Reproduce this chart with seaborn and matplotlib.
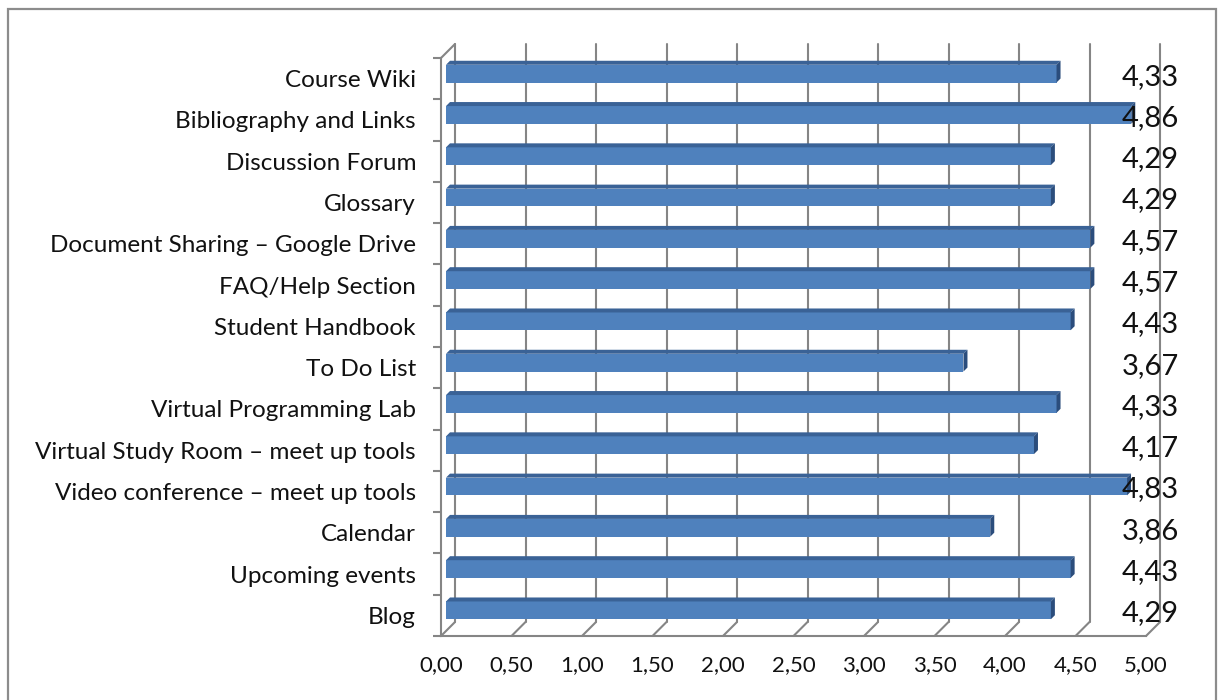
import numpy as np
import pandas as pd
import seaborn as sns
import matplotlib
matplotlib.use("Agg")
import matplotlib.pyplot as plt
from matplotlib.patches import Polygon, Rectangle
from matplotlib.transforms import ScaledTranslation

# --- data -----------------------------------------------------------------
categories = [
    "Course Wiki",
    "Bibliography and Links",
    "Discussion Forum",
    "Glossary",
    "Document Sharing \u2013 Google Drive",
    "FAQ/Help Section",
    "Student Handbook",
    "To Do List",
    "Virtual Programming Lab",
    "Virtual Study Room \u2013 meet up tools",
    "Video conference \u2013 meet up tools",
    "Calendar",
    "Upcoming events",
    "Blog",
]
scores = [4.33, 4.86, 4.29, 4.29, 4.57, 4.57, 4.43, 3.67, 4.33, 4.17, 4.83, 3.86, 4.43, 4.29]
x_ticks = [0.0, 0.5, 1.0, 1.5, 2.0, 2.5, 3.0, 3.5, 4.0, 4.5, 5.0]
x_tick_labels = ["0,00", "0,50", "1,00", "1,50", "2,00", "2,50", "3,00", "3,50", "4,00", "4,50", "5,00"]
value_labels = ["4,33", "4,86", "4,29", "4,29", "4,57", "4,57", "4,43", "3,67", "4,33", "4,17", "4,83", "3,86", "4,43", "4,29"]

df = pd.DataFrame({"tool": categories, "score": scores})

# --- layout (pixels) -------------------------------------------------------
W, H, DPI = 1218, 700, 100
left_px, right_px = 441, 1146
top_px, bottom_px = 58, 636
XMAX = 5.0
n = len(categories)

sns.set_theme(style="white")
plt.rcParams["font.family"] = ["Lato", "DejaVu Sans"]

fig = plt.figure(figsize=(W / DPI, H / DPI), dpi=DPI)
ax = fig.add_axes([left_px / W, 1 - bottom_px / H,
                   (right_px - left_px) / W, (bottom_px - top_px) / H])

px_x = (right_px - left_px) / XMAX        # pixels per score unit
px_y = (bottom_px - top_px) / n           # pixels per category slot

def dx(p):
    return p / px_x

def dy(p):
    # upward on screen = smaller category index (inverted axis)
    return -p / px_y

bar_w = 0.43
front = "#4F81BD"
top_c = "#3A6296"
side_c = "#2B4D7C"
grid_c = "#858585"

sns.barplot(data=df, x="score", y="tool", orient="h", color=front,
            width=bar_w, saturation=1, ax=ax, zorder=3)
ax.set_xlim(0, XMAX)
ax.set_ylim(n - 0.5, -0.5)

# bars sit in the middle of the depth: shift them back-right
shift = ScaledTranslation(5 / DPI, 5 / DPI, fig.dpi_scale_trans)
for p in list(ax.patches):
    p.set_edgecolor("none")
    p.set_transform(ax.transData + shift)

# top and end faces for the 3D look
d = 4.0
for i, v in enumerate(scores):
    y_top = i - bar_w / 2
    y_bot = i + bar_w / 2
    top = Polygon([(0, y_top), (v, y_top), (v + dx(d), y_top + dy(d)), (dx(d), y_top + dy(d))],
                  closed=True, facecolor=top_c, edgecolor="none", zorder=3,
                  transform=ax.transData + shift)
    side = Polygon([(v, y_top), (v + dx(d), y_top + dy(d)), (v + dx(d), y_bot + dy(d)), (v, y_bot)],
                   closed=True, facecolor=side_c, edgecolor="none", zorder=3,
                   transform=ax.transData + shift)
    ax.add_patch(top)
    ax.add_patch(side)

# back wall, floor and side wall lines
D = 14.0
lw = 1.5
for x in x_ticks:
    ax.plot([x + dx(D), x + dx(D)], [n - 0.5 + dy(D), -0.5 + dy(D)],
            color=grid_c, lw=lw, zorder=1, clip_on=False)
    ax.plot([x, x + dx(D)], [n - 0.5, n - 0.5 + dy(D)],
            color=grid_c, lw=lw, zorder=1, clip_on=False)
ax.plot([0, dx(D)], [-0.5, -0.5 + dy(D)], color=grid_c, lw=lw, zorder=1, clip_on=False)

for s in ["top", "right"]:
    ax.spines[s].set_visible(False)
for s in ["left", "bottom"]:
    ax.spines[s].set_color(grid_c)
    ax.spines[s].set_linewidth(lw)
    ax.spines[s].set_zorder(1)

ax.set_xticks(x_ticks)
ax.set_xticklabels(x_tick_labels)
ax.set_yticks(range(n))
ax.set_yticklabels(categories)
ax.set_yticks(np.arange(-0.5, n, 1.0), minor=True)
ax.tick_params(axis="x", which="major", direction="out", length=6, width=lw,
               color=grid_c, labelsize=16, pad=8, labelcolor="#111111")
ax.tick_params(axis="y", which="major", length=0, labelsize=17.5, pad=18,
               labelcolor="#111111")
ax.tick_params(axis="y", which="minor", direction="out", length=6, width=lw,
               color=grid_c, left=True)
ax.set_xlabel("")
ax.set_ylabel("")
ax.patch.set_alpha(0)

# value labels to the right of the plot
for i, lab in enumerate(value_labels):
    ax.text(5.03, i - 0.05, lab, ha="center", va="center", fontsize=21,
            color="#111111", zorder=5, clip_on=False)

# chart frame
fig.patches.append(Rectangle((8 / W, -0.02), (1216 - 8) / W, 1 - 9 / H + 0.02,
                             transform=fig.transFigure, fill=False,
                             edgecolor="#8C8C8C", lw=1.6, zorder=0))

fig.savefig("out.png", dpi=DPI)
